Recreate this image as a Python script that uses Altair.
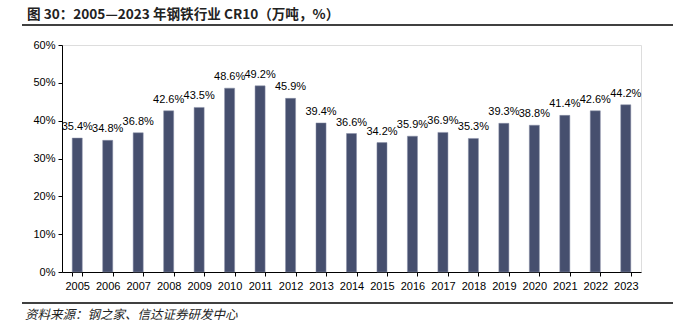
import altair as alt
import pandas as pd

years = [str(y) for y in range(2005, 2024)]
values = [35.4, 34.8, 36.8, 42.6, 43.5, 48.6, 49.2, 45.9, 39.4, 36.6,
          34.2, 35.9, 36.9, 35.3, 39.3, 38.8, 41.4, 42.6, 44.2]
title_text = "图 30：2005—2023 年钢铁行业 CR10（万吨，%）"
source_text = "资料来源：钢之家、信达证券研发中心"

df = pd.DataFrame({"year": years, "v": [v / 100 for v in values],
                   "label": [f"{v:.1f}%" for v in values]})

W, H = 579, 227
FONT = "Liberation Sans"
CJK = "Noto Sans CJK SC"

x = alt.X("year:O", title=None, sort=years,
          scale=alt.Scale(paddingInner=0.67, paddingOuter=0.335),
          axis=alt.Axis(labelAngle=0, labelFont=FONT, labelFontSize=11,
                        labelColor="black", tickBand="extent", tickSize=4,
                        tickColor="black", domainColor="black", labelPadding=4))
y = alt.Y("v:Q", title=None,
          scale=alt.Scale(domain=[0, 0.6], nice=False),
          axis=alt.Axis(format=".0%", values=[0, 0.1, 0.2, 0.3, 0.4, 0.5, 0.6],
                        grid=False, labelFont=FONT, labelFontSize=11,
                        labelColor="black", tickSize=4, tickColor="black",
                        domainColor="black", labelPadding=3))

base = alt.Chart(df)
bars = base.mark_bar(color="#464F6E", stroke="#8A90A8", strokeWidth=0.5).encode(x=x, y=y)
labels = base.mark_text(baseline="bottom", dy=-6, font=FONT, fontSize=11,
                        color="black").encode(x=x, y=y, text="label:N")

title = alt.Chart(pd.DataFrame({"t": [title_text]})).mark_text(
    align="left", baseline="middle", font=CJK, fontSize=13.6, fontWeight="bold",
    color="#222222").encode(x=alt.value(-35), y=alt.value(-30), text="t:N")
source = alt.Chart(pd.DataFrame({"t": [source_text]})).mark_text(
    align="left", baseline="middle", font=CJK, fontSize=12.5, fontStyle="italic",
    color="#222222").encode(x=alt.value(-37), y=alt.value(270), text="t:N")
rule_top = alt.Chart(pd.DataFrame({"a": [0]})).mark_rule(
    color="black", strokeWidth=1.5).encode(x=alt.value(-40), x2=alt.value(611),
                                           y=alt.value(-20))
rule_bot = alt.Chart(pd.DataFrame({"a": [0]})).mark_rule(
    color="black", strokeWidth=1.5).encode(x=alt.value(-40), x2=alt.value(615),
                                           y=alt.value(258))

chart = alt.layer(bars, labels, title, source, rule_top, rule_bot).properties(
    width=W, height=H,
    autosize=alt.AutoSizeParams(type="none"),
    padding={"left": 62, "top": 45, "right": 32, "bottom": 60},
).configure_view(stroke=None).configure(background="white")

chart.save("out.html", embed_options={"renderer": "svg", "actions": False})
